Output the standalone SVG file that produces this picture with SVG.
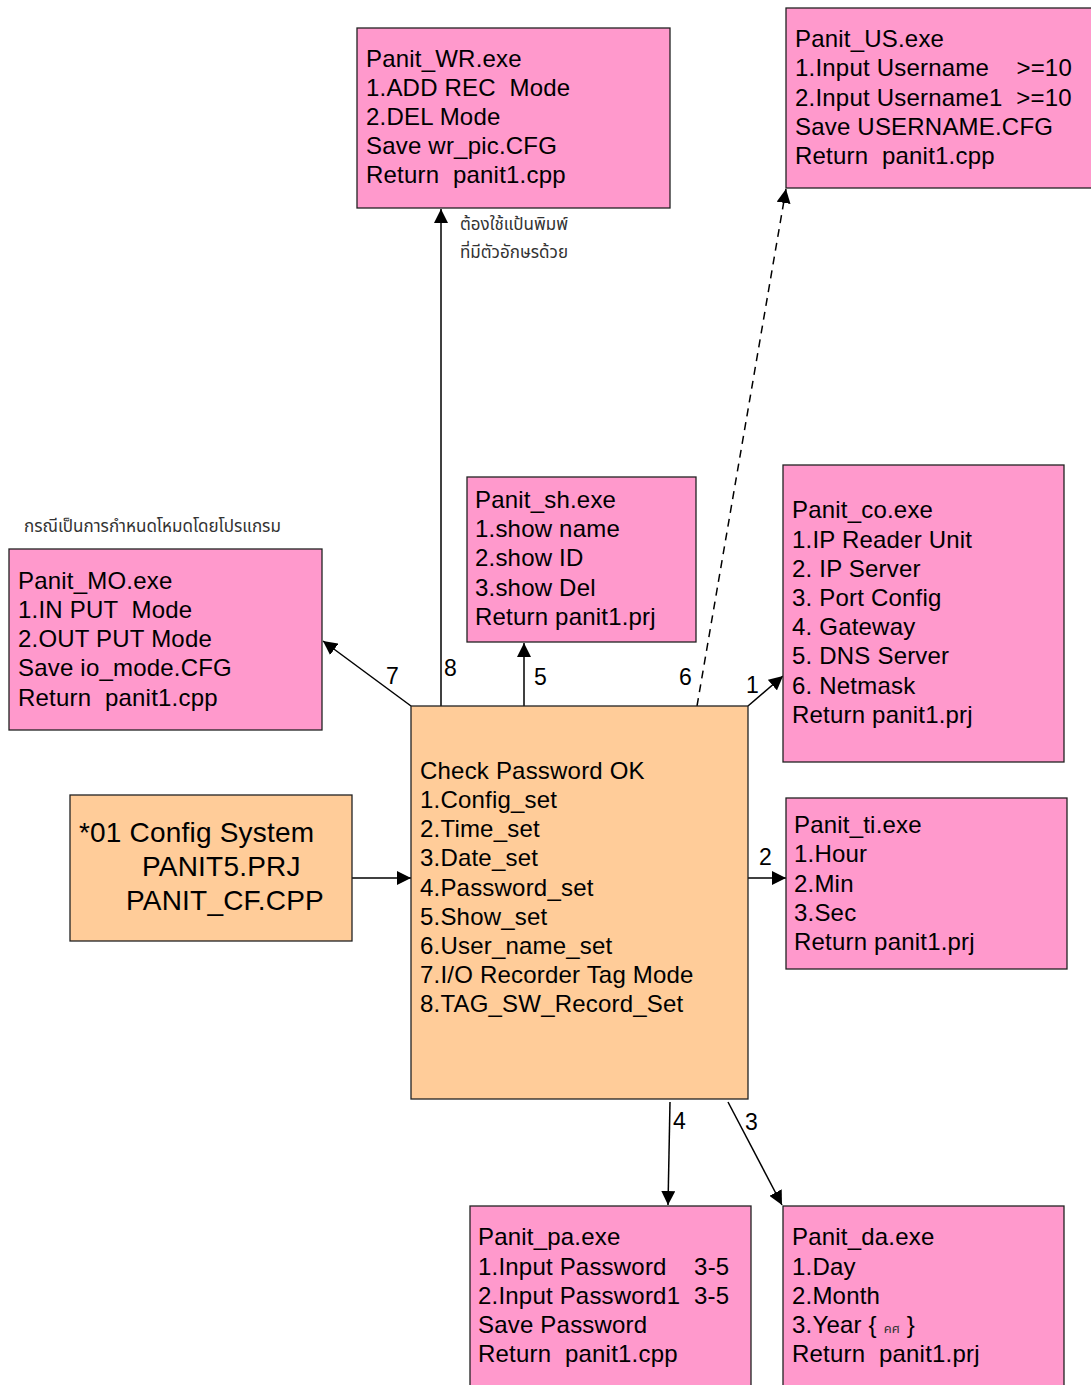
<svg xmlns="http://www.w3.org/2000/svg" width="1091" height="1385" viewBox="0 0 1091 1385">
<style>
.pk{fill:#FF99CC;stroke:#222;stroke-width:1.3}
.or{fill:#FFCC99;stroke:#222;stroke-width:1.3}
text{font-family:"Liberation Sans",Arial,sans-serif;fill:#000;white-space:pre}
.t{font-size:24px;letter-spacing:0.2px}
.big{font-size:28px;letter-spacing:0.2px}
.lbl{font-size:23px}
.th{font-family:"Noto Sans Thai","Noto Sans","DejaVu Sans",sans-serif;font-size:17px;fill:#333}
.c{stroke:#000;stroke-width:1.5;fill:none}
</style>
<defs>
<marker id="ahs" viewBox="0 0 10 10" refX="10" refY="5" markerWidth="14" markerHeight="14" markerUnits="userSpaceOnUse" orient="auto"><path d="M0,0 L10,5 L0,10 z" fill="#000"/></marker>
</defs>
<rect width="1091" height="1385" fill="#fff"/>

<g id="connectors">
<line class="c" x1="441" y1="706" x2="441" y2="209" marker-end="url(#ahs)"/>
<line class="c" x1="411" y1="706" x2="323" y2="641" marker-end="url(#ahs)"/>
<line class="c" x1="524" y1="706" x2="524" y2="643" marker-end="url(#ahs)"/>
<line class="c" x1="697" y1="706" x2="786" y2="189" stroke-dasharray="8,6" marker-end="url(#ahs)"/>
<line class="c" x1="748" y1="706" x2="783" y2="676" marker-end="url(#ahs)"/>
<line class="c" x1="748" y1="878" x2="786" y2="878" marker-end="url(#ahs)"/>
<line class="c" x1="670" y1="1102" x2="668" y2="1205" marker-end="url(#ahs)"/>
<line class="c" x1="728" y1="1102" x2="782" y2="1205" marker-end="url(#ahs)"/>
<line class="c" x1="352" y1="878" x2="411" y2="878" marker-end="url(#ahs)"/>
<text class="lbl" x="444" y="676">8</text>
<text class="lbl" x="386" y="684">7</text>
<text class="lbl" x="534" y="685">5</text>
<text class="lbl" x="679" y="685">6</text>
<text class="lbl" x="746" y="693">1</text>
<text class="lbl" x="759" y="865">2</text>
<text class="lbl" x="673" y="1129">4</text>
<text class="lbl" x="745" y="1130">3</text>
</g>

<g id="note-keyboard">
<text class="th" x="460" y="230">ต้องใช้แป้นพิมพ์</text>
<text class="th" x="460" y="258">ที่มีตัวอักษรด้วย</text>
</g>
<g id="note-program">
<text class="th" x="24" y="532">กรณีเป็นการกำหนดโหมดโดยโปรแกรม</text>
</g>

<g id="panit_wr">
<rect class="pk" x="357" y="28" width="313" height="180"/>
<text class="t" x="366" y="67">Panit_WR.exe</text>
<text class="t" x="366" y="96">1.ADD REC  Mode</text>
<text class="t" x="366" y="125">2.DEL Mode</text>
<text class="t" x="366" y="154">Save wr_pic.CFG</text>
<text class="t" x="366" y="183">Return  panit1.cpp</text>
</g>

<g id="panit_us">
<rect class="pk" x="786" y="8" width="310" height="180"/>
<text class="t" x="795" y="47">Panit_US.exe</text>
<text class="t" x="795" y="76">1.Input Username    &gt;=10</text>
<text class="t" x="795" y="106">2.Input Username1  &gt;=10</text>
<text class="t" x="795" y="135">Save USERNAME.CFG</text>
<text class="t" x="795" y="164">Return  panit1.cpp</text>
</g>

<g id="panit_sh">
<rect class="pk" x="467" y="477" width="229" height="165"/>
<text class="t" x="475" y="508">Panit_sh.exe</text>
<text class="t" x="475" y="537">1.show name</text>
<text class="t" x="475" y="566">2.show ID</text>
<text class="t" x="475" y="596">3.show Del</text>
<text class="t" x="475" y="625">Return panit1.prj</text>
</g>

<g id="panit_co">
<rect class="pk" x="783" y="465" width="281" height="297"/>
<text class="t" x="792" y="518">Panit_co.exe</text>
<text class="t" x="792" y="548">1.IP Reader Unit</text>
<text class="t" x="792" y="577">2. IP Server</text>
<text class="t" x="792" y="606">3. Port Config</text>
<text class="t" x="792" y="635">4. Gateway</text>
<text class="t" x="792" y="664">5. DNS Server</text>
<text class="t" x="792" y="694">6. Netmask</text>
<text class="t" x="792" y="723">Return panit1.prj</text>
</g>

<g id="panit_mo">
<rect class="pk" x="9" y="549" width="313" height="181"/>
<text class="t" x="18" y="589">Panit_MO.exe</text>
<text class="t" x="18" y="618">1.IN PUT  Mode</text>
<text class="t" x="18" y="647">2.OUT PUT Mode</text>
<text class="t" x="18" y="676">Save io_mode.CFG</text>
<text class="t" x="18" y="706">Return  panit1.cpp</text>
</g>

<g id="config_system">
<rect class="or" x="70" y="795" width="282" height="146"/>
<text class="big" x="79" y="842">*01 Config System</text>
<text class="big" x="142" y="876">PANIT5.PRJ</text>
<text class="big" x="126" y="910">PANIT_CF.CPP</text>
</g>

<g id="check_password">
<rect class="or" x="411" y="706" width="337" height="393"/>
<text class="t" x="420" y="779">Check Password OK</text>
<text class="t" x="420" y="808">1.Config_set</text>
<text class="t" x="420" y="837">2.Time_set</text>
<text class="t" x="420" y="866">3.Date_set</text>
<text class="t" x="420" y="896">4.Password_set</text>
<text class="t" x="420" y="925">5.Show_set</text>
<text class="t" x="420" y="954">6.User_name_set</text>
<text class="t" x="420" y="983">7.I/O Recorder Tag Mode</text>
<text class="t" x="420" y="1012">8.TAG_SW_Record_Set</text>
</g>

<g id="panit_ti">
<rect class="pk" x="786" y="798" width="281" height="171"/>
<text class="t" x="794" y="833">Panit_ti.exe</text>
<text class="t" x="794" y="862">1.Hour</text>
<text class="t" x="794" y="892">2.Min</text>
<text class="t" x="794" y="921">3.Sec</text>
<text class="t" x="794" y="950">Return panit1.prj</text>
</g>

<g id="panit_pa">
<rect class="pk" x="470" y="1206" width="281" height="185"/>
<text class="t" x="478" y="1245">Panit_pa.exe</text>
<text class="t" x="478" y="1275">1.Input Password    3-5</text>
<text class="t" x="478" y="1304">2.Input Password1  3-5</text>
<text class="t" x="478" y="1333">Save Password</text>
<text class="t" x="478" y="1362">Return  panit1.cpp</text>
</g>

<g id="panit_da">
<rect class="pk" x="783" y="1206" width="281" height="185"/>
<text class="t" x="792" y="1245">Panit_da.exe</text>
<text class="t" x="792" y="1275">1.Day</text>
<text class="t" x="792" y="1304">2.Month</text>
<text class="t" x="792" y="1333">3.Year { <tspan class="th" style="font-size:13px;letter-spacing:0">คศ</tspan> }</text>
<text class="t" x="792" y="1362">Return  panit1.prj</text>
</g>
</svg>
